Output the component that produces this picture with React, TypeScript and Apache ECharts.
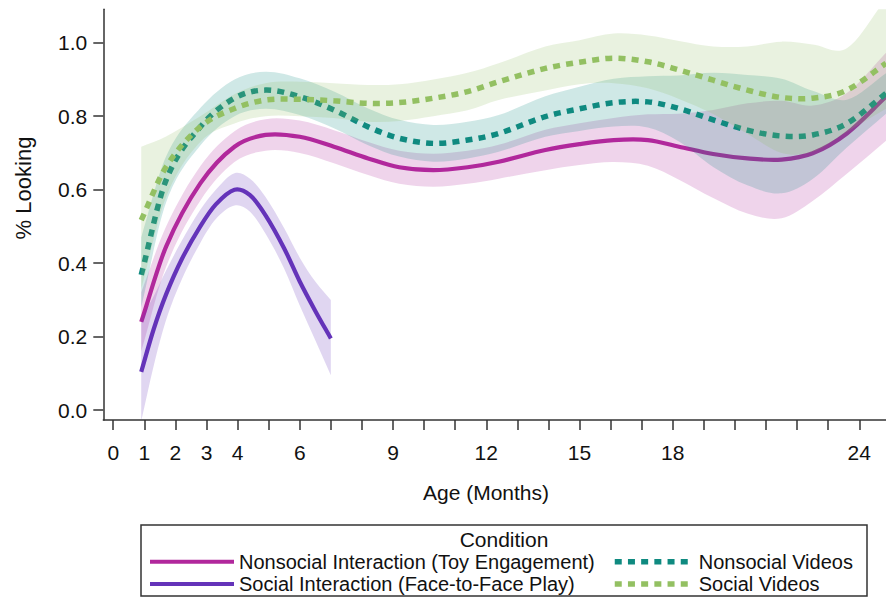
import React, { useEffect, useRef } from 'react';
import * as echarts from 'echarts';

const FONT = "'Liberation Sans', Arial, sans-serif";

const tickMonths = [0, 1, 2, 3, 4, 5, 6, 7, 8, 9, 10, 11, 12, 13, 14, 15, 16, 17, 18, 19, 20, 21, 22, 23, 24];
const labelMonths = [0, 1, 2, 3, 4, 6, 9, 12, 15, 18, 24];
const yTicks = [0, 0.2, 0.4, 0.6, 0.8, 1.0];

const ages = [0.9, 1.7, 2.8, 3.9, 4.9, 6.0, 7.1, 8.2, 9.2, 10.3, 11.4, 12.4, 13.9, 15.0, 16.1, 17.2, 18.2, 19.3, 20.4, 21.5, 22.5, 23.6, 24.86];

const nonsocialInteraction = [0.24, 0.445, 0.617, 0.717, 0.749, 0.744, 0.717, 0.685, 0.661, 0.653, 0.661, 0.676, 0.708, 0.724, 0.735, 0.735, 0.717, 0.697, 0.685, 0.682, 0.699, 0.753, 0.853];
const nonsocialInteractionLower = [0.16, 0.39, 0.57, 0.675, 0.706, 0.70, 0.672, 0.64, 0.616, 0.608, 0.616, 0.63, 0.653, 0.667, 0.675, 0.665, 0.627, 0.577, 0.535, 0.522, 0.569, 0.643, 0.733];
const nonsocialInteractionUpper = [0.32, 0.50, 0.664, 0.759, 0.792, 0.788, 0.762, 0.73, 0.706, 0.698, 0.706, 0.722, 0.763, 0.781, 0.795, 0.805, 0.807, 0.817, 0.835, 0.842, 0.829, 0.863, 0.973];

const nonsocialVideos = [0.368, 0.626, 0.771, 0.849, 0.871, 0.853, 0.817, 0.771, 0.74, 0.726, 0.735, 0.753, 0.799, 0.82, 0.837, 0.839, 0.821, 0.79, 0.762, 0.746, 0.749, 0.78, 0.862];
const nonsocialVideosLower = [0.28, 0.565, 0.72, 0.80, 0.82, 0.803, 0.767, 0.721, 0.69, 0.676, 0.685, 0.703, 0.744, 0.76, 0.772, 0.769, 0.731, 0.662, 0.612, 0.59, 0.629, 0.715, 0.807];
const nonsocialVideosUpper = [0.47, 0.69, 0.822, 0.90, 0.921, 0.903, 0.867, 0.821, 0.79, 0.776, 0.785, 0.803, 0.854, 0.88, 0.902, 0.909, 0.911, 0.918, 0.912, 0.902, 0.869, 0.845, 0.917];

const socialVideos = [0.517, 0.662, 0.771, 0.821, 0.844, 0.846, 0.842, 0.835, 0.837, 0.849, 0.867, 0.894, 0.93, 0.947, 0.958, 0.948, 0.926, 0.898, 0.871, 0.851, 0.849, 0.871, 0.944];
const socialVideosLower = [0.33, 0.58, 0.73, 0.78, 0.80, 0.80, 0.795, 0.785, 0.787, 0.80, 0.816, 0.844, 0.87, 0.887, 0.89, 0.876, 0.847, 0.806, 0.752, 0.70, 0.703, 0.757, 0.82];
const socialVideosUpper = [0.717, 0.745, 0.80, 0.86, 0.89, 0.894, 0.89, 0.885, 0.887, 0.90, 0.918, 0.944, 0.99, 1.007, 1.025, 1.02, 1.005, 0.99, 0.99, 1.003, 0.995, 0.985, 1.12];

const socialAges = [0.9, 1.3, 1.7, 2.2, 2.8, 3.3, 3.9, 4.4, 4.9, 5.5, 6.0, 6.5, 7.0];
const socialInteraction = [0.104, 0.22, 0.315, 0.41, 0.50, 0.56, 0.60, 0.585, 0.53, 0.44, 0.35, 0.27, 0.195];
const socialInteractionLower = [-0.03, 0.12, 0.245, 0.355, 0.455, 0.52, 0.557, 0.54, 0.48, 0.385, 0.285, 0.19, 0.095];
const socialInteractionUpper = [0.25, 0.31, 0.38, 0.46, 0.545, 0.60, 0.645, 0.63, 0.58, 0.495, 0.415, 0.35, 0.30];

const NAMES = {
  ni: 'Nonsocial Interaction (Toy Engagement)',
  si: 'Social Interaction (Face-to-Face Play)',
  nv: 'Nonsocial Videos',
  sv: 'Social Videos',
};

const COLORS = {
  ni: '#b1289c',
  si: '#6433b9',
  nv: '#0f8a80',
  sv: '#93c062',
};

const BAND_FILLS = {
  ni: 'rgba(177,40,156,0.2)',
  si: 'rgba(100,51,185,0.2)',
  nv: 'rgba(15,138,128,0.2)',
  sv: 'rgba(147,192,98,0.2)',
};

const DOT: number[] = [7, 6.2];

// Hermite spline through screen points (monotone in x)
function splinePath(pts: number[][], start: 'M' | 'L'): string {
  const n = pts.length;
  const m = pts.map((_, i) => {
    const a = pts[Math.max(0, i - 1)];
    const b = pts[Math.min(n - 1, i + 1)];
    return (b[1] - a[1]) / (b[0] - a[0]);
  });
  let d = `${start}${pts[0][0]},${pts[0][1]}`;
  for (let i = 0; i < n - 1; i++) {
    const [x0, y0] = pts[i];
    const [x1, y1] = pts[i + 1];
    const h = x1 - x0;
    d += ` C${x0 + h / 3},${y0 + (m[i] * h) / 3} ${x1 - h / 3},${y1 - (m[i + 1] * h) / 3} ${x1},${y1}`;
  }
  return d;
}

function bandSeries(key: string, xs: number[], lower: number[], upper: number[], fill: string) {
  return {
    type: 'custom',
    name: key + '_band',
    coordinateSystem: 'cartesian2d',
    clip: true,
    silent: true,
    data: xs.map((x, i) => [x, lower[i], upper[i]]),
    encode: { x: 0, y: [1, 2] },
    renderItem: (params: any, api: any) => {
      if (params.dataIndex !== 0) return null;
      const up = xs.map((x, i) => api.coord([x, upper[i]]));
      const lo = xs.map((x, i) => api.coord([x, lower[i]])).reverse();
      const d = splinePath(up, 'M') + ' ' + splinePath(lo, 'L') + ' Z';
      return { type: 'path', shape: { pathData: d }, style: { fill, stroke: 'none' } };
    },
  };
}

function curveSeries(key: string, xs: number[], ys: number[], color: string, dotted: boolean) {
  return {
    type: 'custom',
    name: key + '_curve',
    coordinateSystem: 'cartesian2d',
    clip: true,
    silent: true,
    data: xs.map((x, i) => [x, ys[i]]),
    encode: { x: 0, y: 1 },
    renderItem: (params: any, api: any) => {
      if (params.dataIndex !== 0) return null;
      const pts = xs.map((x, i) => api.coord([x, ys[i]]));
      return {
        type: 'path',
        shape: { pathData: splinePath(pts, 'M') },
        style: {
          fill: 'none',
          stroke: color,
          lineWidth: dotted ? 5.5 : 4.2,
          lineDash: dotted ? DOT : null,
          lineCap: 'butt',
          lineJoin: 'round',
        },
      };
    },
  };
}

// empty line series that only supply the legend entries
function legendSeries(name: string, color: string, dotted: boolean) {
  return {
    type: 'line',
    name,
    data: [],
    symbol: 'none',
    lineStyle: { color, width: dotted ? 5.5 : 4, type: dotted ? DOT : 'solid', cap: 'butt' },
    itemStyle: { color, opacity: 0 },
  };
}

function legendItem(name: string, left: number, top: number, itemWidth: number, dotted: boolean) {
  return {
    data: [name],
    left,
    top,
    padding: 0,
    itemWidth,
    itemHeight: 20,
    selectedMode: false,
    itemStyle: { opacity: 0 },
    lineStyle: { width: dotted ? 5.5 : 4, type: dotted ? DOT : 'solid', cap: 'butt' },
    textStyle: { fontSize: 20, fontFamily: FONT, color: '#111' },
  };
}

export default function App() {
  const ref = useRef<HTMLDivElement>(null);
  useEffect(() => {
    document.body.style.margin = '0';
    const chart = echarts.init(ref.current as HTMLDivElement, null, { renderer: 'svg' });
    const axisColor = '#333';
    const option: any = {
      animation: false,
      backgroundColor: '#fff',
      grid: { left: 103.3, right: 0, top: 9.3, bottom: 178, containLabel: false },
      xAxis: {
        type: 'value',
        min: -0.32,
        max: 24.86,
        axisLine: { show: true, onZero: false, lineStyle: { color: axisColor, width: 1.5 } },
        axisTick: { show: true, length: 10, customValues: tickMonths, lineStyle: { color: axisColor, width: 1.5 } },
        axisLabel: { customValues: labelMonths, margin: 22, fontSize: 21, fontFamily: FONT, color: '#111' },
        splitLine: { show: false },
      },
      yAxis: {
        type: 'value',
        min: -0.027,
        max: 1.091,
        axisLine: { show: true, onZero: false, lineStyle: { color: axisColor, width: 1.5 } },
        axisTick: { show: true, length: 10, customValues: yTicks, lineStyle: { color: axisColor, width: 1.5 } },
        axisLabel: {
          customValues: yTicks,
          margin: 16,
          fontSize: 21,
          fontFamily: FONT,
          color: '#111',
          formatter: (v: number) => v.toFixed(1),
        },
        splitLine: { show: false },
      },
      legend: [
        legendItem(NAMES.ni, 148, 551.7, 84, false),
        legendItem(NAMES.si, 148, 574, 84, false),
        legendItem(NAMES.nv, 612, 551.7, 79, true),
        legendItem(NAMES.sv, 612, 574, 79, true),
      ],
      graphic: [
        {
          type: 'rect',
          shape: { x: 141, y: 525, width: 726, height: 71 },
          style: { fill: 'none', stroke: '#333', lineWidth: 1.5 },
          silent: true,
        },
        {
          type: 'text',
          x: 504,
          y: 539,
          style: { text: 'Condition', font: `21px ${FONT}`, fill: '#111', align: 'center', verticalAlign: 'middle' },
          silent: true,
        },
        {
          type: 'text',
          x: 486,
          y: 492,
          style: { text: 'Age (Months)', font: `21px ${FONT}`, fill: '#111', align: 'center', verticalAlign: 'middle' },
          silent: true,
        },
        {
          type: 'text',
          x: 23,
          y: 188,
          rotation: Math.PI / 2,
          style: { text: '% Looking', font: `22px ${FONT}`, fill: '#111', align: 'center', verticalAlign: 'middle' },
          silent: true,
        },
      ],
      series: [
        bandSeries('ni', ages, nonsocialInteractionLower, nonsocialInteractionUpper, BAND_FILLS.ni),
        curveSeries('ni', ages, nonsocialInteraction, COLORS.ni, false),
        bandSeries('si', socialAges, socialInteractionLower, socialInteractionUpper, BAND_FILLS.si),
        curveSeries('si', socialAges, socialInteraction, COLORS.si, false),
        bandSeries('nv', ages, nonsocialVideosLower, nonsocialVideosUpper, BAND_FILLS.nv),
        curveSeries('nv', ages, nonsocialVideos, COLORS.nv, true),
        bandSeries('sv', ages, socialVideosLower, socialVideosUpper, BAND_FILLS.sv),
        curveSeries('sv', ages, socialVideos, COLORS.sv, true),
        legendSeries(NAMES.ni, COLORS.ni, false),
        legendSeries(NAMES.si, COLORS.si, false),
        legendSeries(NAMES.nv, COLORS.nv, true),
        legendSeries(NAMES.sv, COLORS.sv, true),
      ],
    };
    chart.setOption(option);
    return () => chart.dispose();
  }, []);
  return <div ref={ref} style={{ width: 886, height: 598, position: 'absolute', left: 0, top: 0 }} />;
}
